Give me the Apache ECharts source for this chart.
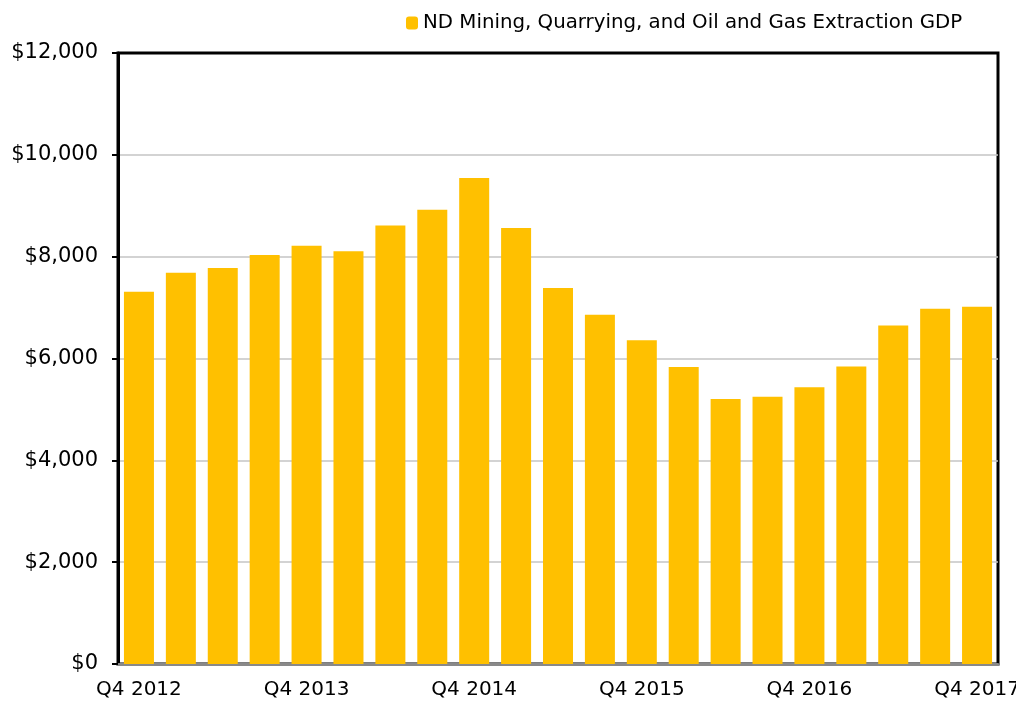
<!DOCTYPE html>
<html>
<head>
<meta charset="utf-8">
<script src="https://cdn.jsdelivr.net/npm/echarts@6/dist/echarts.min.js"></script>
<style>
  html, body { margin: 0; padding: 0; background: #fff; }
  #chart { width: 1016px; height: 704px; }
</style>
</head>
<body>
<div id="chart"></div>
<script>
// quarters, Q4 2012 .. Q4 2017
var quarters = [
  'Q4 2012', 'Q1 2013', 'Q2 2013', 'Q3 2013',
  'Q4 2013', 'Q1 2014', 'Q2 2014', 'Q3 2014',
  'Q4 2014', 'Q1 2015', 'Q2 2015', 'Q3 2015',
  'Q4 2015', 'Q1 2016', 'Q2 2016', 'Q3 2016',
  'Q4 2016', 'Q1 2017', 'Q2 2017', 'Q3 2017',
  'Q4 2017'
];
// GDP, millions of dollars
var gdp = [
  7310, 7685, 7777, 8032,
  8215, 8104, 8614, 8923,
  9545, 8563, 7383, 6857,
  6358, 5835, 5205, 5250,
  5434, 5841, 6647, 6975,
  7015
];
var seriesName = 'ND Mining, Quarrying, and Oil and Gas Extraction GDP';
var yTicks = { min: 0, max: 12000, step: 2000 };

var font = '"DejaVu Sans", sans-serif';
var myChart = echarts.init(document.getElementById('chart'));
var option = {
  animation: false,
  backgroundColor: '#fff',
  legend: {
    data: [seriesName],
    top: 8,
    left: 401,
    itemWidth: 12,
    itemHeight: 13,
    itemGap: 4,
    textStyle: { fontFamily: font, fontSize: 19.8, color: '#000' }
  },
  grid: {
    left: 118,
    right: 18,
    top: 53,
    bottom: 40,
    outerBoundsMode: 'none',
    containLabel: false,
    show: true,
    borderColor: '#000',
    borderWidth: 3
  },
  xAxis: {
    type: 'category',
    data: quarters,
    axisLine: { lineStyle: { color: '#898989', width: 3 } },
    axisTick: { show: false },
    axisLabel: {
      interval: 3,
      margin: 16,
      fontFamily: font,
      fontSize: 20,
      color: '#000'
    }
  },
  yAxis: {
    type: 'value',
    min: yTicks.min,
    max: yTicks.max,
    interval: yTicks.step,
    axisLine: { show: true, lineStyle: { color: '#000', width: 3 } },
    axisTick: { show: true, length: 6, lineStyle: { color: '#000', width: 2 } },
    axisLabel: {
      margin: 20,
      fontFamily: font,
      fontSize: 21,
      color: '#000',
      formatter: function (v) {
        return '$' + v.toLocaleString('en-US');
      }
    },
    splitLine: {
      showMinLine: false,
      showMaxLine: false,
      lineStyle: { color: '#c4c4c4', width: 1.5 }
    }
  },
  series: [{
    name: seriesName,
    type: 'bar',
    data: gdp,
    barWidth: 30,
    itemStyle: { color: '#FFC000' }
  }]
};
myChart.setOption(option);
</script>
</body>
</html>
